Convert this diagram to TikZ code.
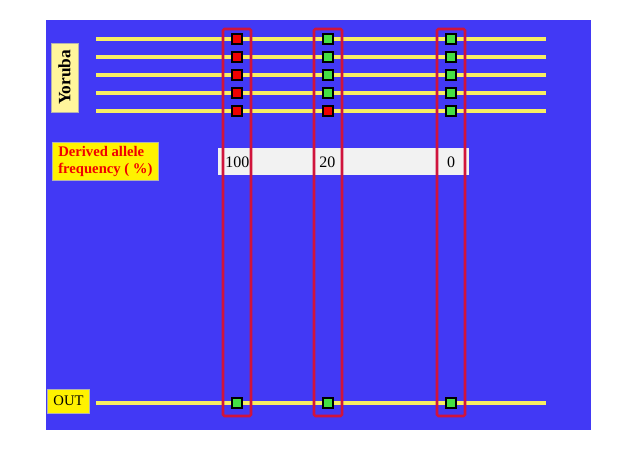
\documentclass[tikz,border=0pt]{standalone}
\usepackage{fontspec}
\setmainfont{Liberation Serif}
\usetikzlibrary{positioning}
\definecolor{slideblue}{HTML}{4239F5}
\definecolor{trackyellow}{HTML}{F7EE63}
\definecolor{boxred}{HTML}{D0143C}
\definecolor{snpred}{HTML}{F00000}
\definecolor{snpgreen}{HTML}{44E044}
\definecolor{paleyellow}{HTML}{FFF59C}
\definecolor{barwhite}{HTML}{F2F2F2}

\tikzset{
  snp/.style={draw=black,line width=.8pt,minimum size=7.5pt,inner sep=0pt},
  track/.style={trackyellow,line width=3pt},
  tag/.style={draw=gray!60,line width=.6pt,inner sep=0pt},
  freq/.style={font=\fontsize{12}{13}\selectfont,inner sep=0pt}
}

\begin{document}
\begin{tikzpicture}[x=0.75pt,y=-0.75pt]
\useasboundingbox (0,0) rectangle (638,451);
\fill[slideblue] (46,20) rectangle (591,430);
% chromosome tracks
\foreach \y in {39,57,75,93,111}
  \draw[track] (96,\y)--(546,\y);
\draw[track] (96,403)--(546,403);
% frequency bar
\fill[barwhite] (218,148) rectangle (469,175);
\node[freq,anchor=west] (f1) at (225,162) {100};
\node[freq,anchor=west] (f2) at (319,162) {20};
\node[freq] (f3) at (451,162) {0};
% red frames
\foreach \x in {237,328,451}
  \draw[boxred,line width=1.9pt,rounded corners=1pt] (\x-14,29) rectangle (\x+14,416);
% sites
\foreach \y [count=\i] in {39,57,75,93,111}{
  \node[snp,fill=snpred] (a\i) at (237,\y) {};
  \node[snp,fill=snpgreen] (c\i) at (451,\y) {};
}
\foreach \y/\c [count=\i] in {39/snpgreen,57/snpgreen,75/snpgreen,93/snpgreen,111/snpred}
  \node[snp,fill=\c] (b\i) at (328,\y) {};
\foreach \x/\n in {237/a,328/b,451/c}
  \node[snp,fill=snpgreen] (out\n) at (\x,403) {};
% labels
\node[tag,fill=paleyellow,rotate=90,minimum width=51.75pt,minimum height=20.25pt,
  font=\fontsize{13}{14}\selectfont\bfseries] (yoruba) at (64.5,77.5) {Yoruba};
\node[tag,fill=yellow,anchor=west,minimum width=79.5pt,minimum height=29pt,inner xsep=4pt,
  align=left,text=snpred,font=\fontsize{11}{13}\selectfont\bfseries] (derived) at (52,161.5)
  {Derived allele\\frequency ( \%)};
\node[tag,fill=yellow,minimum width=32pt,minimum height=18pt,
  font=\fontsize{11}{12}\selectfont] (out) at (68.5,401) {OUT};
\end{tikzpicture}
\end{document}
